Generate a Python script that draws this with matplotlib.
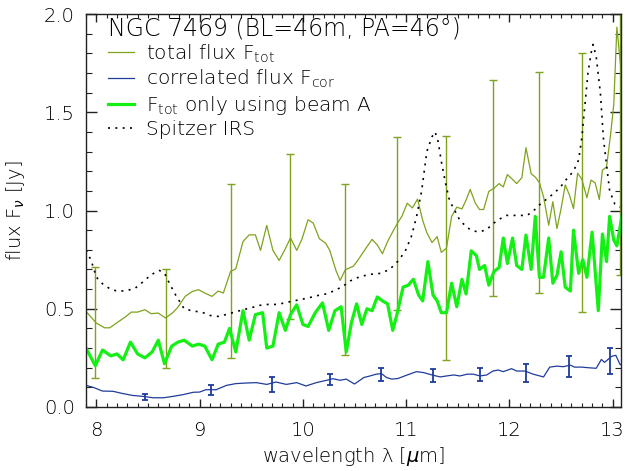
import matplotlib
matplotlib.use("Agg")
import matplotlib.pyplot as plt
from matplotlib.ticker import MultipleLocator

# ---- data ----
tot_x = [7.90, 8.00, 8.08, 8.13, 8.20, 8.28, 8.34, 8.40, 8.47, 8.53, 8.60, 8.67, 8.74, 8.79, 8.86,
         8.93, 8.99, 9.05, 9.12, 9.18, 9.23, 9.30, 9.35, 9.42, 9.48, 9.54, 9.59, 9.65, 9.71, 9.77,
         9.83, 9.88, 9.94, 9.99, 10.05, 10.10, 10.16, 10.22, 10.26, 10.32, 10.36, 10.41, 10.49,
         10.54, 10.61, 10.67, 10.72, 10.77, 10.82, 10.87, 10.91, 10.96, 11.01, 11.06, 11.11, 11.16,
         11.20, 11.25, 11.30, 11.34, 11.39, 11.44, 11.49, 11.54, 11.58, 11.62, 11.67, 11.71, 11.75,
         11.80, 11.85, 11.90, 11.94, 11.98, 12.03, 12.07, 12.12, 12.16, 12.21, 12.25, 12.29, 12.33,
         12.38, 12.42, 12.46, 12.50, 12.54, 12.58, 12.62, 12.66, 12.70, 12.75, 12.79, 12.83, 12.87,
         12.90, 12.94, 12.98, 13.01, 13.04, 13.09]
tot_y = [0.486, 0.427, 0.403, 0.403, 0.429, 0.458, 0.483, 0.483, 0.495, 0.475, 0.478, 0.453, 0.480,
         0.508, 0.563, 0.588, 0.597, 0.580, 0.563, 0.590, 0.580, 0.690, 0.703, 0.842, 0.876, 0.876,
         0.797, 0.924, 0.797, 0.746, 0.805, 0.861, 0.797, 0.853, 0.953, 0.936, 0.856, 0.834, 0.797,
         0.695, 0.644, 0.698, 0.717, 0.753, 0.808, 0.853, 0.825, 0.780, 0.842, 0.892, 0.930, 0.972,
         1.037, 1.013, 1.058, 0.950, 0.887, 0.837, 0.867, 0.787, 0.808, 0.970, 1.017, 1.008, 1.053,
         1.107, 1.037, 1.005, 1.005, 1.097, 1.113, 1.137, 1.120, 1.183, 1.158, 1.137, 1.167, 1.320,
         1.187, 1.170, 1.142, 1.070, 0.925, 1.045, 0.908, 1.010, 1.130, 1.080, 1.010, 1.190, 1.160,
         1.065, 1.155, 1.140, 1.056, 1.205, 1.222, 1.390, 1.540, 1.933, 1.660]

tot_err_x = [7.99, 8.67, 9.30, 9.88, 10.41, 10.915, 11.39, 11.845, 12.285, 12.705, 13.075]
tot_err_y = [0.43, 0.45, 0.69, 0.868, 0.70, 0.936, 0.808, 1.113, 1.142, 1.144, 1.67]
tot_err = [0.28, 0.25, 0.443, 0.42, 0.435, 0.44, 0.57, 0.55, 0.5625, 0.66, 1.0]

cor_x = [7.90, 7.97, 8.06, 8.16, 8.26, 8.35, 8.45, 8.55, 8.65, 8.74, 8.84, 8.94, 9.00, 9.06, 9.16,
         9.26, 9.35, 9.45, 9.55, 9.65, 9.74, 9.84, 9.94, 10.03, 10.13, 10.23, 10.29, 10.36, 10.42,
         10.50, 10.59, 10.65, 10.71, 10.76, 10.81, 10.86, 10.92, 11.01, 11.10, 11.17, 11.25, 11.33,
         11.39, 11.46, 11.52, 11.59, 11.65, 11.715, 11.78, 11.84, 11.89, 11.94, 12.02, 12.07, 12.15,
         12.23, 12.33, 12.39, 12.46, 12.52, 12.59, 12.63, 12.70, 12.76, 12.84, 12.89, 12.92, 12.99,
         13.03, 13.07, 13.10]
cor_y = [0.110, 0.100, 0.081, 0.080, 0.068, 0.059, 0.054, 0.047, 0.047, 0.054, 0.063, 0.075, 0.076,
         0.088, 0.088, 0.110, 0.119, 0.122, 0.124, 0.115, 0.127, 0.115, 0.124, 0.107, 0.124, 0.136,
         0.144, 0.136, 0.142, 0.117, 0.150, 0.158, 0.167, 0.170, 0.150, 0.142, 0.145, 0.163, 0.180,
         0.175, 0.163, 0.153, 0.158, 0.163, 0.158, 0.167, 0.167, 0.158, 0.163, 0.183, 0.188, 0.180,
         0.195, 0.183, 0.183, 0.167, 0.153, 0.203, 0.208, 0.205, 0.213, 0.203, 0.203, 0.200, 0.197,
         0.242, 0.227, 0.258, 0.263, 0.217, 0.210]

cor_err_x = [8.47, 9.11, 9.70, 10.26, 10.76, 11.26, 11.715, 12.16, 12.58, 12.97]
cor_err_y = [0.051, 0.088, 0.115, 0.140, 0.167, 0.162, 0.167, 0.174, 0.208, 0.233]
cor_err = [0.017, 0.025, 0.038, 0.030, 0.033, 0.033, 0.033, 0.046, 0.054, 0.067]

beamA_x = [7.90, 7.99, 8.06, 8.14, 8.20, 8.26, 8.33, 8.40, 8.47, 8.54, 8.60, 8.66, 8.73, 8.79, 8.85,
           8.93, 8.99, 9.05, 9.12, 9.18, 9.24, 9.29, 9.35, 9.42, 9.48, 9.54, 9.61, 9.65, 9.71, 9.77,
           9.83, 9.88, 9.94, 10.00, 10.05, 10.12, 10.19, 10.25, 10.31, 10.37, 10.42, 10.47, 10.52,
           10.57, 10.62, 10.67, 10.72, 10.77, 10.82, 10.87, 10.91, 10.97, 11.02, 11.07, 11.12, 11.16,
           11.21, 11.26, 11.30, 11.34, 11.39, 11.44, 11.49, 11.54, 11.58, 11.63, 11.68, 11.71, 11.76,
           11.80, 11.85, 11.90, 11.94, 11.98, 12.03, 12.07, 12.12, 12.16, 12.21, 12.25, 12.29, 12.33,
           12.38, 12.42, 12.46, 12.50, 12.54, 12.59, 12.62, 12.67, 12.71, 12.75, 12.80, 12.86, 12.90,
           12.94, 12.97, 13.01, 13.04, 13.09]
beamA_y = [0.30, 0.21, 0.29, 0.26, 0.27, 0.24, 0.33, 0.27, 0.25, 0.28, 0.34, 0.22, 0.31, 0.33, 0.34,
           0.31, 0.32, 0.31, 0.24, 0.32, 0.33, 0.40, 0.28, 0.49, 0.34, 0.47, 0.48, 0.30, 0.31, 0.48,
           0.39, 0.47, 0.52, 0.42, 0.41, 0.48, 0.53, 0.39, 0.49, 0.51, 0.28, 0.43, 0.525, 0.42, 0.50,
           0.49, 0.56, 0.54, 0.525, 0.39, 0.47, 0.61, 0.62, 0.65, 0.57, 0.54, 0.74, 0.57, 0.54, 0.48,
           0.48, 0.63, 0.51, 0.65, 0.575, 0.795, 0.77, 0.70, 0.72, 0.62, 0.69, 0.71, 0.86, 0.73, 0.86,
           0.72, 0.70, 0.875, 0.70, 0.97, 0.66, 0.66, 0.86, 0.63, 0.67, 0.79, 0.61, 0.59, 0.90, 0.68,
           0.75, 0.66, 0.89, 0.49, 0.88, 0.74, 0.97, 0.85, 0.82, 0.975]

irs_x = [7.90, 7.95, 8.00, 8.06, 8.13, 8.21, 8.29, 8.37, 8.45, 8.53, 8.61, 8.66, 8.71, 8.77, 8.85,
         8.94, 9.02, 9.10, 9.18, 9.26, 9.34, 9.42, 9.50, 9.58, 9.66, 9.74, 9.82, 9.90, 9.98, 10.06,
         10.15, 10.23, 10.31, 10.39, 10.46, 10.55, 10.65, 10.75, 10.84, 10.92, 10.99, 11.05, 11.10,
         11.15, 11.20, 11.25, 11.28, 11.31, 11.34, 11.38, 11.42, 11.47, 11.52, 11.59, 11.65, 11.715,
         11.78, 11.84, 11.91, 11.97, 12.07, 12.17, 12.23, 12.30, 12.36, 12.42, 12.49, 12.55, 12.62,
         12.67, 12.70, 12.73, 12.76, 12.79, 12.81, 12.84, 12.88, 12.91, 12.94, 12.97, 13.02, 13.07]
irs_y = [0.797, 0.746, 0.661, 0.627, 0.602, 0.588, 0.593, 0.602, 0.636, 0.673, 0.695, 0.681, 0.627,
         0.568, 0.500, 0.488, 0.483, 0.466, 0.461, 0.471, 0.483, 0.495, 0.505, 0.517, 0.522, 0.522,
         0.529, 0.539, 0.547, 0.556, 0.568, 0.576, 0.593, 0.615, 0.642, 0.663, 0.675, 0.680, 0.700,
         0.742, 0.792, 0.867, 0.967, 1.100, 1.300, 1.375, 1.400, 1.350, 1.250, 1.142, 1.050, 1.000,
         0.950, 0.913, 0.895, 0.892, 0.903, 0.933, 0.958, 0.975, 0.975, 0.975, 0.997, 1.033, 1.058,
         1.083, 1.117, 1.158, 1.200, 1.258, 1.367, 1.533, 1.700, 1.800, 1.845, 1.783, 1.600, 1.367,
         1.233, 1.100, 1.033, 1.017]

x_ticks = [8, 9, 10, 11, 12, 13]
y_ticks = [0.0, 0.5, 1.0, 1.5, 2.0]

OLIVE = "#7ea31c"
BLUE = "#1f3c9c"
GREEN = "#14f014"

plt.rcParams["font.family"] = ["DejaVu Sans"]
plt.rcParams["font.weight"] = "light"
plt.rcParams["axes.labelweight"] = "light"
plt.rcParams["mathtext.fontset"] = "dejavusans"

fig = plt.figure(figsize=(6.41, 4.71), dpi=100)
ax = fig.add_axes([86 / 641, 64 / 471, 535 / 641, 393 / 471])

ax.plot(tot_x, tot_y, color=OLIVE, lw=0.9, label="total flux F$_{\\rm tot}$")
ax.errorbar(tot_err_x, tot_err_y, yerr=tot_err, fmt="none", ecolor=OLIVE, elinewidth=1.0,
            capsize=2.6, capthick=1.0)
ax.plot(cor_x, cor_y, color=BLUE, lw=0.9, label="correlated flux F$_{\\rm cor}$")
ax.errorbar(cor_err_x, cor_err_y, yerr=cor_err, fmt="none", ecolor=BLUE, elinewidth=1.3,
            capsize=2.4, capthick=1.3)
ax.plot(beamA_x, beamA_y, color=GREEN, lw=2.3, label="F$_{\\rm tot}$ only using beam A")
ax.plot(irs_x, irs_y, color="black", lw=1.2, linestyle=(0, (1.2, 3.2)), label="Spitzer IRS")

ax.set_xlim(7.9, 13.08)
ax.set_ylim(0.0, 2.0)
ax.set_xticks(x_ticks)
ax.set_yticks(y_ticks)
ax.set_yticklabels([f"{v:.1f}" for v in y_ticks])
ax.xaxis.set_minor_locator(MultipleLocator(0.1))
ax.yaxis.set_minor_locator(MultipleLocator(0.1))
ax.tick_params(axis="both", which="both", direction="in", top=True, right=True,
               labelsize=14, colors="#222222", labelcolor="black")
ax.tick_params(axis="x", which="major", length=6, width=1, pad=10)
ax.tick_params(axis="x", which="minor", length=3, width=0.8)
ax.tick_params(axis="y", which="major", length=8, width=1, pad=8)
ax.tick_params(axis="y", which="minor", length=4, width=0.8)
for s in ax.spines.values():
    s.set_color("#222222")
    s.set_linewidth(1.0)

ax.set_xlabel("wavelength λ [$\\mu$m]", fontsize=14, labelpad=4, fontweight="light")
ax.set_ylabel("flux F$_\\nu$ [Jy]", fontsize=14, labelpad=12, fontweight="light")

ax.text(0.041, 0.963, "NGC 7469 (BL=46m, PA=46°)", transform=ax.transAxes, fontsize=17,
        va="center", ha="left", color="black")
leg = ax.legend(loc="upper left", bbox_to_anchor=(0.041, 0.928), frameon=False, fontsize=14.5,
                handlelength=1.3, handletextpad=0.6, labelspacing=0.17, borderaxespad=0.0,
                borderpad=0.0)

fig.savefig("out.png", dpi=100)
